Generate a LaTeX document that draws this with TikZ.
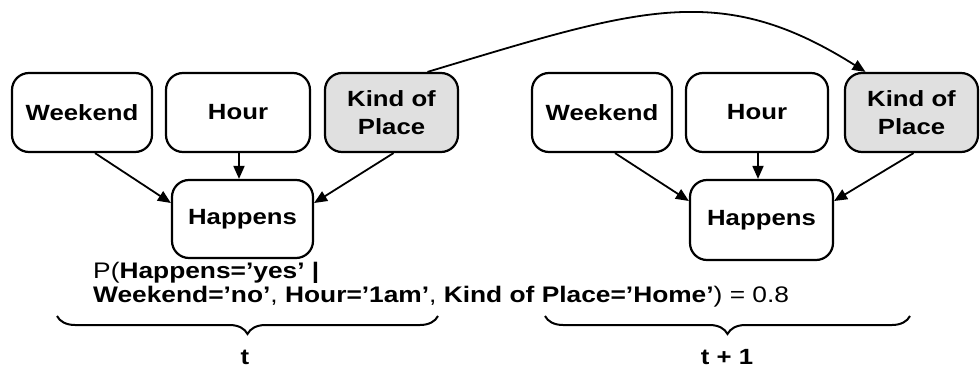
\documentclass[tikz,border=0pt]{standalone}
\usepackage{fontspec}
\setmainfont{Liberation Sans}[FakeStretch=1.17]
\usetikzlibrary{arrows.meta,decorations.pathreplacing,calc}
\definecolor{kindgray}{HTML}{E0E0E0}
\tikzset{
  var/.style={draw, line width=2.2pt, rounded corners=17pt, align=center,
    font=\fontsize{22}{28}\selectfont\bfseries, minimum height=79pt, inner sep=0pt},
  kind/.style={var, fill=kindgray},
  edge/.style={line width=1.8pt, -{Triangle[length=13pt,width=11pt]}},
  brc/.style={decorate, decoration={brace, mirror, amplitude=18pt}, line width=2pt},
  lbl/.style={font=\fontsize{22.5}{25}\selectfont, anchor=base west, inner sep=0pt},
  tlbl/.style={font=\fontsize{22}{25}\selectfont\bfseries, anchor=base, inner sep=0pt}
}
\begin{document}
\begin{tikzpicture}[x=1pt,y=-1pt]
\useasboundingbox (0,0) rectangle (980,369);
% left slice
\node[var, minimum width=140pt] (W1) at (82,112.5) {Weekend};
\node[var, minimum width=144pt] (H1) at (238,112.5) {Hour};
\node[kind, minimum width=133pt] (K1) at (391.5,112.5) {Kind of\\Place};
\node[var, minimum width=141pt, minimum height=78pt] (P1) at (242.5,219) {Happens};
% right slice
\node[var, minimum width=140pt] (W2) at (602,112.5) {Weekend};
\node[var, minimum width=142pt] (H2) at (757,112.5) {Hour};
\node[kind, minimum width=133pt] (K2) at (911.5,112.5) {Kind of\\Place};
\node[var, minimum width=143pt, minimum height=80pt] (P2) at (761.5,220) {Happens};
% edges
\draw[edge] ([xshift=13pt]W1.south) -- ([yshift=16pt]P1.west);
\draw[edge] ([xshift=1pt]H1.south) -- ([xshift=1pt]H1.south |- P1.north);
\draw[edge] ([xshift=2pt]K1.south) -- ([yshift=16pt]P1.east);
\draw[edge] ([xshift=13pt]W2.south) -- ([yshift=19pt]P2.west);
\draw[edge] ([xshift=1pt]H2.south) -- ([xshift=1pt]H2.south |- P2.north);
\draw[edge] ([xshift=2pt]K2.south) -- ([yshift=19pt]P2.east);
\draw[edge] ([xshift=36pt]K1.north) .. controls (640,8) and (720,-20) .. ([xshift=-46pt]K2.north);
% caption
\node[lbl] (cap1) at (93,278) {P(\textbf{Happens=’yes’ |}};
\node[lbl] (cap2) at (93,302) {\textbf{Weekend=’no’}, \textbf{Hour=’1am’}, \textbf{Kind of Place=’Home’}) = 0.8};
% braces
\draw[brc] (57,316) -- (438,316);
\draw[brc] (545,316) -- (910,316);
\node[tlbl] (t0) at (245,364) {t};
\node[tlbl] (t1) at (727,364) {t + 1};
\end{tikzpicture}
\end{document}
